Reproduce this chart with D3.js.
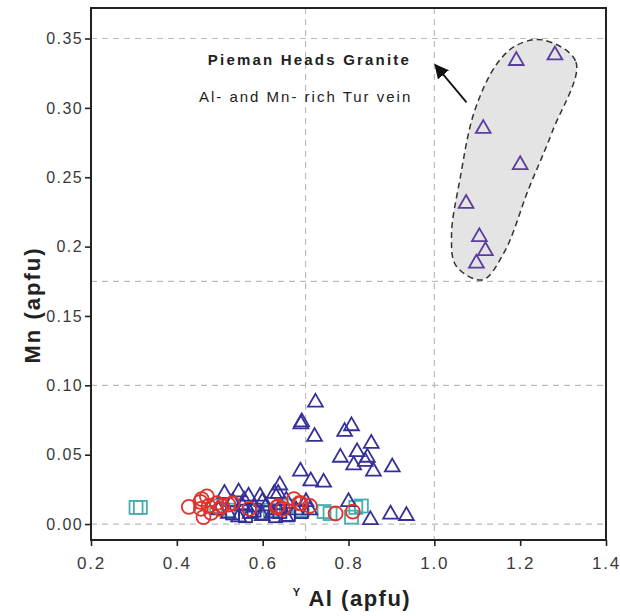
<!DOCTYPE html>
<html>
<head>
<meta charset="utf-8">
<script src="https://cdn.jsdelivr.net/npm/d3@7"></script>
<style>
  body { margin: 0; background: #fff; }
  text { font-family: "Liberation Sans", Arial, sans-serif; }
</style>
</head>
<body>
<div id="chart"></div>
<script>
// Tick values and labels
const xTicks = [0.2, 0.4, 0.6, 0.8, 1.0, 1.2, 1.4];
const yTicks = [0, 0.05, 0.10, 0.15, 0.2, 0.25, 0.30, 0.35];
const yTickLabels = ['0.00', '0.05', '0.10', '0.15', '0.2', '0.25', '0.30', '0.35'];
const xGrid = [0.7, 1.0];
const yGrid = [0, 0.10, 0.175, 0.35];

// Pieman Heads Granite, Al- and Mn-rich Tur vein (triangles inside the field)
const veinTriangles = [
  [1.191, 0.334], [1.281, 0.338], [1.114, 0.285], [1.200, 0.259],
  [1.074, 0.231], [1.105, 0.207], [1.119, 0.197], [1.098, 0.188]
];

// outline of the shaded field
const fieldOutline = [
  [1.253, 0.349], [1.330, 0.333], [1.275, 0.283], [1.219, 0.241],
  [1.163, 0.196], [1.112, 0.176], [1.051, 0.186], [1.040, 0.208],
  [1.060, 0.249], [1.093, 0.297], [1.144, 0.331], [1.191, 0.345]
];

// other triangles (navy)
const triangles = [
  [0.723, 0.0877], [0.691, 0.0735], [0.689, 0.072], [0.721, 0.063],
  [0.807, 0.0707], [0.791, 0.0666], [0.853, 0.058], [0.820, 0.052],
  [0.844, 0.048], [0.781, 0.048], [0.812, 0.0425], [0.839, 0.045],
  [0.858, 0.038], [0.902, 0.041], [0.688, 0.038], [0.712, 0.031],
  [0.742, 0.030], [0.640, 0.028], [0.851, 0.003], [0.898, 0.007],
  [0.935, 0.006], [0.800, 0.016],
  [0.511, 0.022], [0.544, 0.023], [0.567, 0.020], [0.594, 0.020],
  [0.627, 0.022], [0.636, 0.022], [0.520, 0.0076], [0.544, 0.005],
  [0.599, 0.006], [0.655, 0.005], [0.553, 0.013], [0.580, 0.012],
  [0.608, 0.013], [0.636, 0.010], [0.557, 0.017], [0.530, 0.016],
  [0.497, 0.010], [0.701, 0.016], [0.710, 0.010], [0.571, 0.0076],
  [0.622, 0.0076], [0.599, 0.016], [0.655, 0.017], [0.678, 0.010]
];

// navy squares under the cluster
const navySquares = [
  [0.530, 0.008], [0.560, 0.006], [0.600, 0.008], [0.630, 0.006],
  [0.660, 0.007], [0.580, 0.010], [0.640, 0.009], [0.690, 0.009]
];

// teal squares
const tealSquares = [
  [0.305, 0.012], [0.315, 0.012], [0.493, 0.013], [0.520, 0.010],
  [0.571, 0.009], [0.618, 0.010], [0.655, 0.013], [0.692, 0.010],
  [0.743, 0.009], [0.757, 0.0076], [0.807, 0.005], [0.830, 0.013],
  [0.817, 0.012]
];

// red circles
const circles = [
  [0.428, 0.0124], [0.458, 0.018], [0.456, 0.011], [0.462, 0.005],
  [0.474, 0.013], [0.493, 0.015], [0.506, 0.013], [0.530, 0.015],
  [0.569, 0.011], [0.636, 0.013], [0.647, 0.011], [0.673, 0.018],
  [0.689, 0.015], [0.710, 0.013], [0.770, 0.0076], [0.810, 0.009],
  [0.480, 0.008], [0.500, 0.011], [0.520, 0.014], [0.470, 0.020],
  [0.455, 0.016], [0.633, 0.012], [0.685, 0.015]
];

// annotation
const arrowFrom = [1.075, 0.304];
const arrowTo = [1.002, 0.331];
const titleLabel = { x: 0.709, y: 0.331, text: 'Pieman Heads Granite' };
const subLabel = { x: 0.700, y: 0.304, text: 'Al- and Mn- rich Tur vein' };

const margin = { top: 8, right: 14, bottom: 76, left: 91 };
const width = 620 - margin.left - margin.right;
const height = 616 - margin.top - margin.bottom;

const svg = d3.select('#chart')
  .append('svg')
  .attr('width', 620)
  .attr('height', 616);

svg.append('defs').append('marker')
  .attr('id', 'arrow')
  .attr('viewBox', '0 0 10 10')
  .attr('refX', 9)
  .attr('refY', 5)
  .attr('markerWidth', 8)
  .attr('markerHeight', 8)
  .attr('orient', 'auto')
  .append('path')
  .attr('d', 'M0,0 L10,5 L0,10 Z')
  .attr('fill', '#111');

const g = svg.append('g')
  .attr('transform', `translate(${margin.left},${margin.top})`);

const x = d3.scaleLinear().domain([0.2, 1.4]).range([0, width]);
const y = d3.scaleLinear().domain([-0.0115, 0.372]).range([height, 0]);

// Grid lines
g.selectAll('.vgrid')
  .data(xGrid)
  .join('line')
  .attr('x1', d => x(d)).attr('x2', d => x(d))
  .attr('y1', 0).attr('y2', height)
  .attr('stroke', '#bbb')
  .attr('stroke-width', 1.2)
  .attr('stroke-dasharray', '6,5');

g.selectAll('.hgrid')
  .data(yGrid)
  .join('line')
  .attr('x1', 0).attr('x2', width)
  .attr('y1', d => y(d)).attr('y2', d => y(d))
  .attr('stroke', '#bbb')
  .attr('stroke-width', 1.2)
  .attr('stroke-dasharray', '6,5');

// Shaded field
g.append('path')
  .datum(fieldOutline)
  .attr('d', d3.line()
    .x(d => x(d[0]))
    .y(d => y(d[1]))
    .curve(d3.curveCatmullRomClosed))
  .attr('fill', '#e4e4e4')
  .attr('stroke', '#333')
  .attr('stroke-width', 1.5)
  .attr('stroke-dasharray', '6,4');

// Markers
const tri = d3.symbol().type(d3.symbolTriangle).size(95);
const sqSize = 13;

g.selectAll('.teal')
  .data(tealSquares)
  .join('rect')
  .attr('x', d => x(d[0]) - sqSize / 2)
  .attr('y', d => y(d[1]) - sqSize / 2)
  .attr('width', sqSize).attr('height', sqSize)
  .attr('fill', 'none')
  .attr('stroke', '#45aeae')
  .attr('stroke-width', 1.8);

g.selectAll('.navysq')
  .data(navySquares)
  .join('rect')
  .attr('x', d => x(d[0]) - sqSize / 2)
  .attr('y', d => y(d[1]) - sqSize / 2)
  .attr('width', sqSize).attr('height', sqSize)
  .attr('fill', 'none')
  .attr('stroke', '#2c2c94')
  .attr('stroke-width', 1.8);

g.selectAll('.tri')
  .data(triangles)
  .join('path')
  .attr('d', tri)
  .attr('transform', d => `translate(${x(d[0])},${y(d[1])})`)
  .attr('fill', 'none')
  .attr('stroke', '#352f98')
  .attr('stroke-width', 1.8);

g.selectAll('.circ')
  .data(circles)
  .join('circle')
  .attr('cx', d => x(d[0]))
  .attr('cy', d => y(d[1]))
  .attr('r', 7)
  .attr('fill', 'none')
  .attr('stroke', '#e0322c')
  .attr('stroke-width', 1.8);

g.selectAll('.vein')
  .data(veinTriangles)
  .join('path')
  .attr('d', tri)
  .attr('transform', d => `translate(${x(d[0])},${y(d[1])})`)
  .attr('fill', 'none')
  .attr('stroke', '#5a3c9e')
  .attr('stroke-width', 1.8);

// Annotation
g.append('line')
  .attr('x1', x(arrowFrom[0])).attr('y1', y(arrowFrom[1]))
  .attr('x2', x(arrowTo[0])).attr('y2', y(arrowTo[1]))
  .attr('stroke', '#111')
  .attr('stroke-width', 1.8)
  .attr('marker-end', 'url(#arrow)');

g.append('text')
  .attr('x', x(titleLabel.x)).attr('y', y(titleLabel.y))
  .attr('text-anchor', 'middle')
  .attr('font-size', '15px')
  .attr('font-weight', 'bold')
  .attr('letter-spacing', '2.2px')
  .attr('fill', '#222')
  .text(titleLabel.text);

g.append('text')
  .attr('x', x(subLabel.x)).attr('y', y(subLabel.y))
  .attr('text-anchor', 'middle')
  .attr('font-size', '15px')
  .attr('letter-spacing', '2px')
  .attr('fill', '#222')
  .text(subLabel.text);

// Axes
const xAxis = d3.axisBottom(x)
  .tickValues(xTicks)
  .tickFormat(d3.format('.1f'))
  .tickSize(6)
  .tickPadding(11);

const yAxis = d3.axisLeft(y)
  .tickValues(yTicks)
  .tickFormat((d, i) => yTickLabels[i])
  .tickSize(6)
  .tickPadding(2);

const xg = g.append('g')
  .attr('transform', `translate(0,${height})`)
  .call(xAxis);

const yg = g.append('g').call(yAxis);

[xg, yg].forEach(a => {
  a.select('.domain').remove();
  a.selectAll('line').attr('stroke', '#222').attr('stroke-width', 1.6);
  a.selectAll('text')
    .attr('fill', '#3a3a3a')
    .style('font-family', '"Liberation Sans", Arial, sans-serif');
});
xg.selectAll('text').attr('font-size', '17px').attr('letter-spacing', '1.8px');
yg.selectAll('text').attr('font-size', '16px').attr('letter-spacing', '1.4px');

// Frame
g.append('rect')
  .attr('x', 0).attr('y', 0)
  .attr('width', width).attr('height', height)
  .attr('fill', 'none')
  .attr('stroke', '#222')
  .attr('stroke-width', 2);

// Axis titles
const xTitle = svg.append('text')
  .attr('x', 352)
  .attr('y', 606)
  .attr('text-anchor', 'middle')
  .attr('font-size', '22px')
  .attr('font-weight', 'bold')
  .attr('letter-spacing', '1.5px')
  .attr('fill', '#222');
xTitle.append('tspan')
  .attr('font-size', '11px')
  .attr('dy', '-10')
  .text('Y');
xTitle.append('tspan')
  .attr('dy', '10')
  .text(' Al (apfu)');

svg.append('text')
  .attr('transform', 'translate(40,305) rotate(-90)')
  .attr('text-anchor', 'middle')
  .attr('font-size', '22px')
  .attr('font-weight', 'bold')
  .attr('letter-spacing', '2px')
  .attr('fill', '#222')
  .text('Mn (apfu)');
</script>
</body>
</html>
